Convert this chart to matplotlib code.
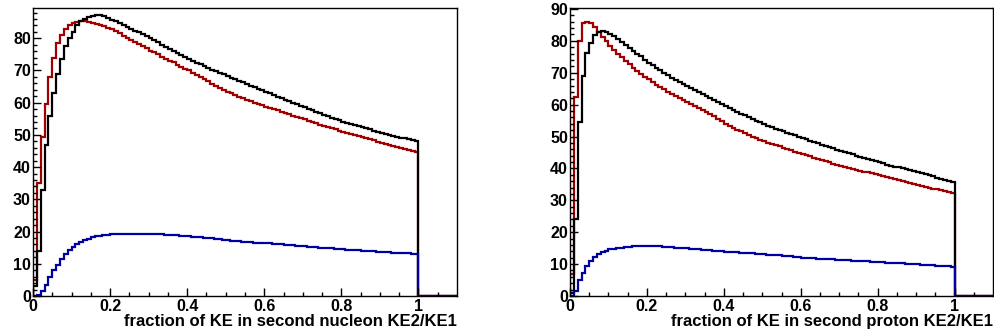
import matplotlib
matplotlib.use('Agg')
import matplotlib.pyplot as plt
import numpy as np

plt.rcParams['font.family'] = ['Liberation Sans', 'DejaVu Sans']
plt.rcParams['font.weight'] = 'bold'

# bin contents, 0.01 wide bins from 0 to 1
left_black = [3, 14, 33, 47, 56, 63, 69, 73.5, 77.5, 80,
              82, 84, 85.3, 86.1, 86.6, 86.9, 87.1, 87.2, 87.0, 86.4,
              85.8, 85.3, 84.8, 84.2, 83.6, 83.0, 82.4, 81.8, 81.2, 80.6,
              80.0, 79.4, 78.7, 78.0, 77.4, 76.7, 76.1, 75.4, 74.8, 74.1,
              73.5, 73.0, 72.4, 71.9, 71.4, 70.9, 70.3, 69.8, 69.3, 68.8,
              68.3, 67.8, 67.3, 66.8, 66.3, 65.8, 65.3, 64.8, 64.3, 63.9,
              63.4, 62.9, 62.4, 61.9, 61.4, 60.9, 60.5, 60.0, 59.5, 59.1,
              58.6, 58.1, 57.7, 57.2, 56.8, 56.3, 55.9, 55.4, 55.0, 54.5,
              54.1, 53.7, 53.4, 53.0, 52.7, 52.4, 52.0, 51.7, 51.3, 51.0,
              50.7, 50.4, 50.1, 49.8, 49.5, 49.2, 48.9, 48.6, 48.3, 48.0]
left_red = [5, 35, 49.5, 59.5, 68, 74, 78.5, 81, 83, 84,
            84.8, 85.2, 85.4, 85.3, 85.1, 84.8, 84.5, 84.1, 83.7, 83.3,
            82.8, 82.2, 81.5, 80.8, 80.2, 79.5, 78.9, 78.2, 77.5, 76.9,
            76.2, 75.6, 75.0, 74.3, 73.7, 73.1, 72.5, 71.8, 71.2, 70.6,
            70.0, 69.3, 68.6, 68.0, 67.3, 66.6, 65.9, 65.3, 64.6, 64.0,
            63.4, 62.9, 62.4, 61.9, 61.4, 60.9, 60.5, 60.0, 59.6, 59.2,
            58.8, 58.4, 58.0, 57.6, 57.2, 56.8, 56.4, 56.0, 55.6, 55.2,
            54.8, 54.4, 54.0, 53.6, 53.2, 52.8, 52.4, 52.0, 51.7, 51.3,
            51.0, 50.6, 50.3, 49.9, 49.6, 49.3, 48.9, 48.6, 48.3, 47.9,
            47.6, 47.2, 46.9, 46.6, 46.2, 45.9, 45.6, 45.3, 44.9, 44.6]
left_blue = [0, 0.3, 1.4, 3.4, 6.0, 8.1, 9.7, 11.4, 12.9, 14.2,
             15.3, 16.1, 16.8, 17.4, 17.8, 18.2, 18.5, 18.7, 18.9, 19.0,
             19.1, 19.15, 19.2, 19.25, 19.3, 19.3, 19.3, 19.3, 19.3, 19.3,
             19.25, 19.2, 19.2, 19.1, 19.0, 18.95, 18.9, 18.8, 18.7, 18.6,
             18.5, 18.4, 18.3, 18.2, 18.1, 18.0, 17.85, 17.7, 17.6, 17.45,
             17.3, 17.2, 17.1, 17.0, 16.9, 16.8, 16.7, 16.6, 16.5, 16.45,
             16.4, 16.3, 16.2, 16.1, 16.0, 15.9, 15.8, 15.7, 15.6, 15.5,
             15.4, 15.3, 15.2, 15.1, 15.0, 14.9, 14.8, 14.75, 14.7, 14.6,
             14.5, 14.4, 14.3, 14.2, 14.15, 14.1, 14.0, 13.9, 13.85, 13.8,
             13.7, 13.6, 13.55, 13.5, 13.4, 13.3, 13.25, 13.2, 13.1, 13.0]

right_black = [1, 24, 54.5, 69, 76.3, 79.4, 81.8, 82.9, 83.2, 82.9,
               82.2, 81.4, 80.5, 79.6, 78.7, 77.8, 76.9, 76.0, 75.1, 74.1,
               73.2, 72.4, 71.6, 70.8, 70.0, 69.2, 68.5, 67.8, 67.1, 66.5,
               65.8, 65.2, 64.5, 63.9, 63.2, 62.6, 62.0, 61.3, 60.7, 60.1,
               59.5, 58.9, 58.3, 57.7, 57.2, 56.6, 56.1, 55.5, 55.0, 54.4,
               53.8, 53.4, 52.9, 52.5, 52.0, 51.6, 51.2, 50.8, 50.4, 50.0,
               49.5, 49.1, 48.7, 48.3, 47.9, 47.5, 47.1, 46.7, 46.3, 45.9,
               45.5, 45.1, 44.7, 44.4, 44.0, 43.7, 43.3, 43.0, 42.6, 42.2,
               41.9, 41.6, 41.2, 40.9, 40.6, 40.3, 40.0, 39.7, 39.4, 39.1,
               38.8, 38.5, 38.1, 37.8, 37.5, 37.1, 36.8, 36.5, 36.2, 35.8]
right_red = [7, 62.5, 80, 85.5, 86, 85.5, 84.2, 82.8, 81.2, 79.8,
             78.3, 77.1, 75.9, 74.8, 73.7, 72.6, 71.6, 70.6, 69.7, 68.8,
             67.9, 67.1, 66.3, 65.5, 64.8, 64.1, 63.4, 62.7, 62.1, 61.5,
             60.9, 60.2, 59.6, 59.0, 58.3, 57.6, 57.0, 56.3, 55.6, 54.9,
             54.0, 53.4, 52.8, 52.2, 51.6, 51.0, 50.5, 50.0, 49.5, 49.0,
             48.5, 48.1, 47.7, 47.3, 46.9, 46.5, 46.1, 45.7, 45.3, 44.9,
             44.6, 44.2, 43.8, 43.4, 43.0, 42.6, 42.2, 41.9, 41.5, 41.1,
             40.8, 40.5, 40.2, 39.9, 39.6, 39.3, 39.0, 38.8, 38.5, 38.2,
             37.9, 37.6, 37.3, 37.0, 36.7, 36.4, 36.1, 35.8, 35.5, 35.1,
             34.8, 34.5, 34.2, 34.0, 33.7, 33.4, 33.1, 32.8, 32.6, 32.3]
right_blue = [0, 1.5, 5.0, 7.3, 9.4, 11.1, 12.1, 13.2, 13.7, 14.2,
              14.6, 14.8, 15.0, 15.2, 15.35, 15.5, 15.6, 15.7, 15.75, 15.8,
              15.8, 15.75, 15.7, 15.6, 15.5, 15.4, 15.3, 15.2, 15.1, 15.0,
              14.9, 14.8, 14.7, 14.6, 14.5, 14.4, 14.3, 14.2, 14.1, 14.0,
              13.9, 13.8, 13.75, 13.7, 13.6, 13.5, 13.45, 13.4, 13.3, 13.2,
              13.1, 13.0, 12.9, 12.8, 12.7, 12.6, 12.5, 12.4, 12.3, 12.2,
              12.0, 11.95, 11.9, 11.8, 11.75, 11.7, 11.6, 11.55, 11.5, 11.4,
              11.3, 11.25, 11.2, 11.1, 11.05, 11.0, 10.9, 10.85, 10.8, 10.7,
              10.6, 10.55, 10.5, 10.4, 10.35, 10.3, 10.2, 10.15, 10.1, 10.0,
              9.9, 9.85, 9.8, 9.7, 9.6, 9.55, 9.5, 9.4, 9.3, 9.2]

# empty bins between 1 and 1.1
overflow = [0.0] * 10

x_ticks = [0, 0.2, 0.4, 0.6, 0.8, 1.0]
x_labels = ['0', '0.2', '0.4', '0.6', '0.8', '1']
left_yticks = [0, 10, 20, 30, 40, 50, 60, 70, 80]
right_yticks = [0, 10, 20, 30, 40, 50, 60, 70, 80, 90]

RED = '#a00000'
BLUE = '#0000a0'


def draw_panel(ax, black, red, blue, yticks, ymax, xtitle):
    edges = np.linspace(0, 1.1, 111)
    ax.stairs(red + overflow, edges, color=RED, lw=1.6, baseline=0)
    ax.stairs(black + overflow, edges, color='black', lw=1.6, baseline=0)
    ax.stairs(blue + overflow, edges, color=BLUE, lw=1.6, baseline=0)

    ax.set_xlim(0, 1.1)
    ax.set_ylim(0, ymax)
    ax.set_xticks(x_ticks)
    ax.set_xticklabels(x_labels, fontsize=11.5, fontweight='bold')
    ax.set_xticks(np.arange(0, 1.1, 0.05), minor=True)
    ax.set_yticks(yticks)
    ax.set_yticklabels([str(t) for t in yticks], fontsize=11.5,
                       fontweight='bold')
    ax.set_yticks(np.arange(0, ymax, 2), minor=True)
    ax.tick_params(which='both', direction='in', top=False, right=False,
                   width=1)
    ax.tick_params(which='major', length=5.5)
    ax.tick_params(which='minor', length=2.7)
    ax.tick_params(axis='x', pad=2.5)
    ax.tick_params(axis='y', pad=1.5)
    for s in ax.spines.values():
        s.set_linewidth(1)
    ax.set_xlabel(xtitle, loc='right', fontsize=12, fontweight='bold',
                  labelpad=0)


fig = plt.figure(figsize=(9.95, 3.34), dpi=100)
ax1 = fig.add_axes([33 / 995, 38 / 334, 424 / 995, 288 / 334])
ax2 = fig.add_axes([570 / 995, 38 / 334, 423 / 995, 288 / 334])

draw_panel(ax1, left_black, left_red, left_blue, left_yticks, 89.4,
           'fraction of KE in second nucleon KE2/KE1')
draw_panel(ax2, right_black, right_red, right_blue, right_yticks, 90.3,
           'fraction of KE in second proton KE2/KE1')

fig.savefig('out.png', dpi=100)
